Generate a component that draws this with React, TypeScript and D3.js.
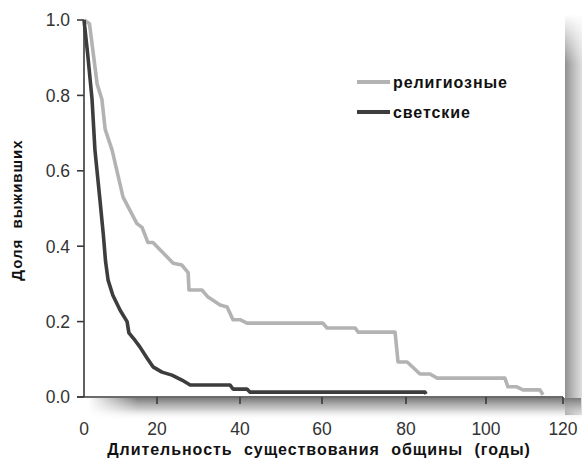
import React from "react";
import * as d3 from "d3";

const W = 582;
const H = 467;

const xTicks = [0, 20, 40, 60, 80, 100, 120];
const yTicks = [0, 0.2, 0.4, 0.6, 0.8, 1.0];

const religiousT = [0, 1.5, 3.6, 4.9, 5.8, 7.7, 10.7, 14.5, 15.9, 17.5, 18.9, 23.9, 26, 27.5, 27.7, 30.8, 32.3, 35.2, 36.9, 38.3, 40, 41.7, 60.2, 61.2, 67.9, 68.6, 77.4, 78.1, 80.3, 83.5, 86, 87.8, 104.9, 105.7, 108, 109.6, 114, 114.8];
const religiousV = [1.0, 0.99, 0.83, 0.79, 0.71, 0.655, 0.53, 0.46, 0.45, 0.41, 0.41, 0.355, 0.35, 0.33, 0.284, 0.284, 0.265, 0.244, 0.239, 0.205, 0.205, 0.196, 0.196, 0.183, 0.183, 0.172, 0.172, 0.093, 0.093, 0.061, 0.061, 0.05, 0.05, 0.027, 0.027, 0.019, 0.019, 0.006];

const secularT = [0, 1.0, 2.2, 3.0, 4.4, 5.3, 5.9, 6.6, 7.9, 9.9, 11.8, 12.3, 14, 15.3, 17.3, 18.9, 21.2, 23.6, 26, 28, 37.6, 38.3, 41.7, 42.4, 84.75, 85];
const secularV = [1.0, 0.91, 0.79, 0.655, 0.52, 0.43, 0.36, 0.31, 0.27, 0.23, 0.2, 0.17, 0.15, 0.133, 0.103, 0.08, 0.066, 0.058, 0.045, 0.032, 0.032, 0.021, 0.021, 0.013, 0.013, 0.008];

const seriesNames = ["религиозные", "светские"];
const seriesColors = ["#b3b3b3", "#3d3d3d"];

const xTitle = "Длительность существования общины (годы)";
const yTitle = "Доля выживших";

export default function App() {
  const x = d3.scaleLinear().domain(xTicks).range([84, 157, 240, 322, 406, 486, 563]);
  const y = d3.scaleLinear().domain([0, 1]).range([397, 20]);
  const line = d3
    .line<[number, number]>()
    .x((d) => x(d[0]))
    .y((d) => y(d[1]));
  const rel: [number, number][] = religiousT.map((t, i) => [t, religiousV[i]]);
  const sec: [number, number][] = secularT.map((t, i) => [t, secularV[i]]);
  const font = "'Liberation Sans', Arial, Helvetica, sans-serif";
  const x0 = x(0);
  const x1 = x(120);
  const y0 = y(0);

  return (
    <svg
      width={W}
      height={H}
      style={{ position: "absolute", left: 0, top: 0, background: "#fff" }}
      fontFamily={font}
    >
      <defs>
        <linearGradient id="shB" x1="0" y1="0" x2="0" y2="1">
          <stop offset="0" stopColor="#7a7a7a" stopOpacity="1" />
          <stop offset="0.5" stopColor="#bdbdbd" stopOpacity="0.8" />
          <stop offset="1" stopColor="#ffffff" stopOpacity="0" />
        </linearGradient>
        <linearGradient id="shBL" x1="0" y1="0" x2="1" y2="0">
          <stop offset="0" stopColor="#fff" stopOpacity="1" />
          <stop offset="1" stopColor="#fff" stopOpacity="0" />
        </linearGradient>
        <linearGradient id="shR" x1="0" y1="0" x2="1" y2="0">
          <stop offset="0" stopColor="#8f8f8f" stopOpacity="1" />
          <stop offset="1" stopColor="#d0d0d0" stopOpacity="0.7" />
        </linearGradient>
        <linearGradient id="shRT" x1="0" y1="0" x2="0" y2="1">
          <stop offset="0" stopColor="#fff" stopOpacity="1" />
          <stop offset="1" stopColor="#fff" stopOpacity="0" />
        </linearGradient>
      </defs>
      {/* shadows */}
      <rect x={x1 + 2} y={14} width={W - x1 - 2} height={y0 + 18 - 14} fill="url(#shR)" />
      <rect x={x1 + 2} y={14} width={W - x1 - 2} height={50} fill="url(#shRT)" />
      <rect x={x0 + 4} y={y0 + 1} width={x1 - x0 + 14} height={22} fill="url(#shB)" />
      <rect x={x0 + 4} y={y0 + 1} width={50} height={22} fill="url(#shBL)" />

      {/* axes */}
      <g stroke="#3a3a3a" strokeWidth={1.6} fill="none">
        <line x1={x0} x2={x0} y1={y(1)} y2={y0} />
        <line x1={x0 - 7} x2={x1} y1={y0} y2={y0} />
        {yTicks.map((t) => (
          <line key={"yt" + t} x1={x0 - 7} x2={x0} y1={y(t)} y2={y(t)} />
        ))}
        {xTicks.slice(1).map((t) => (
          <line key={"xt" + t} x1={x(t)} x2={x(t)} y1={y0} y2={y0 + 7} />
        ))}
      </g>
      <g fill="#333" fontSize={17.5}>
        {yTicks.map((t) => (
          <text key={"yl" + t} x={70} y={y(t)} dy="0.36em" textAnchor="end">
            {t.toFixed(1)}
          </text>
        ))}
        {xTicks.map((t) => (
          <text key={"xl" + t} x={x(t)} y={435} textAnchor="middle">
            {t}
          </text>
        ))}
      </g>

      {/* curves */}
      <path d={line(rel) || ""} fill="none" stroke={seriesColors[0]} strokeWidth={3.6} strokeLinejoin="round" />
      <path d={line(sec) || ""} fill="none" stroke={seriesColors[1]} strokeWidth={3.6} strokeLinejoin="round" />

      {/* legend */}
      {seriesNames.map((n, i) => (
        <g key={n} transform={`translate(357,${82 + i * 30})`}>
          <line x1={0} x2={33} y1={0} y2={0} stroke={seriesColors[i]} strokeWidth={4} />
          <text x={36} y={0} dy="0.36em" fontSize={16} fontWeight="bold" fill="#111" letterSpacing={0.9}>
            {n}
          </text>
        </g>
      ))}

      {/* titles */}
      <text
        x={319}
        y={455}
        textAnchor="middle"
        fontSize={16}
        fontWeight="bold"
        fill="#111"
        letterSpacing={0.95}
        wordSpacing={6}
      >
        {xTitle}
      </text>
      <text
        transform={`translate(22,${210}) rotate(-90)`}
        textAnchor="middle"
        fontSize={15}
        fontWeight="bold"
        fill="#111"
        letterSpacing={1}
        wordSpacing={5}
      >
        {yTitle}
      </text>
    </svg>
  );
}
